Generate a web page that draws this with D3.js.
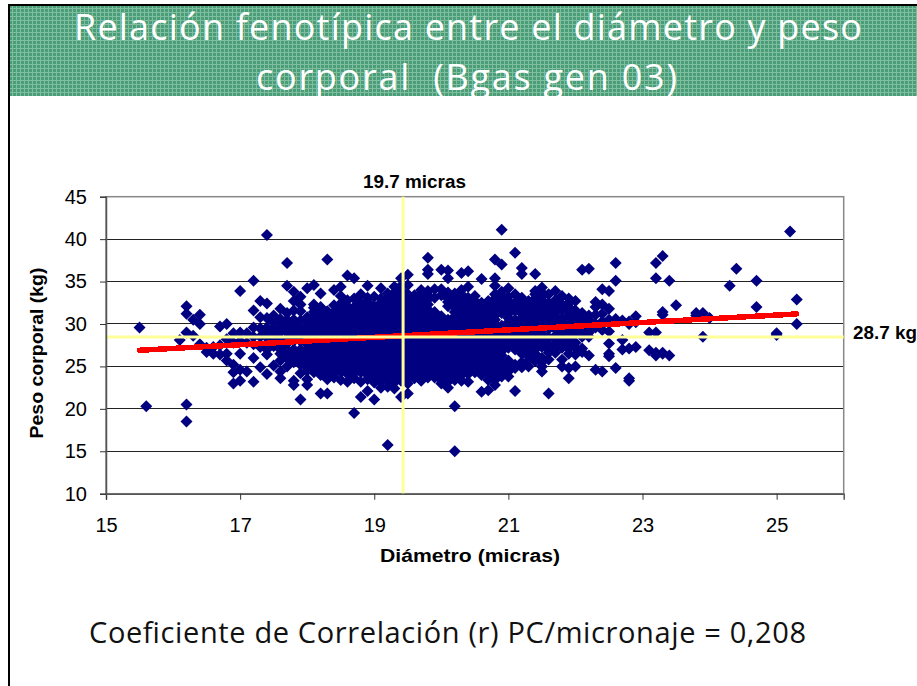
<!DOCTYPE html>
<html><head><meta charset="utf-8">
<script src="https://cdn.jsdelivr.net/npm/d3@7"></script>
<style>html,body{margin:0;padding:0;background:#fff;overflow:hidden}svg{display:block}</style>
</head><body><svg id="c" width="917" height="686"></svg>
<script>
const titleLines = ["Relación fenotípica entre el diámetro y peso", "corporal  (Bgas gen 03)"];
const xTicks = [15,17,19,21,23,25];
const yTicks = [10,15,20,25,30,35,40,45];
const xTitle = "Diámetro (micras)", yTitle = "Peso corporal (kg)";
const refX = 19.43, refY = 28.47;
const refXLabel = "19.7 micras", refYLabel = "28.7 kg";
const footer = "Coeficiente de Correlación (r) PC/micronaje = 0,208";
const trendX = [15.5, 25.3], trendY = [26.9, 31.18];
const diameters = [15.5,15.6,16.1,16.2,16.3,16.4,16.5,16.6,16.7,16.8,16.9,17.0,17.1,17.2,17.3,17.4,17.5,17.6,17.7,17.8,17.9,18.0,18.1,18.2,18.3,18.4,18.5,18.6,18.7,18.8,18.9,19.0,19.1,19.2,19.3,19.4,19.5,19.6,19.7,19.8,19.9,20.0,20.1,20.2,20.3,20.4,20.5,20.6,20.7,20.8,20.9,21.0,21.1,21.2,21.3,21.4,21.5,21.6,21.7,21.8,21.9,22.0,22.1,22.2,22.3,22.4,22.5,22.6,22.7,22.8,22.9,23.1,23.2,23.3,23.4,23.5,23.8,23.9,24.0,24.3,24.4,24.7,25.0,25.2,25.3];
const weights = [
[29.6],[20.3],[28.1],[32.1,31.2,29,20.5,18.5],[30.5,28.6],[31.1,30,27.6],[27.2,26.7],[27.3,26.5],[29.7,27.5,26.4],[30,28.2,26.5,25.7],
[28.9,27.8,25.2,24.3,23],[33.9,29,28,26.5,24.6,23.3],[28.9,27.8,24.4],[35.1,31.6,29.6,28.5,27.6,26,23.2],[32.7,30.8,29.5,28.5,27.3,24.9],[40.5,32.4,30.7,29.6,28.4,27,26.4,24.1],[31,30.2,29,28,25.1],[31.8,30.6,29.5,27.5,26.5,25.7,24.4,23.6],[37.2,34.5,30.5,29.5,28.3,27,26,25],[33.8,32.7,31.6,30,29,28,27,25.5,23.3,22.8],
[33.2,32.3,31.5,29.5,28.5,26.5,25.2,24.2,21.1],[34.2,30.8,29.8,28.7,27.6,26.4,25.4,24.5,23.5,22.8],[34.6,32.3,31.4,30.4,29.4,28.4,27.3,26.3,25.3,24.3],[33.6,32,31,30,29,28,27,26,25,24,21.8],[37.6,31,30,29,28,27,26,25,24,23.5,21.8],[34,32.2,30.9,29.8,28.9,27.7,26.6,25.6,24.8,23.7],[34.4,33.3,31.7,30.5,29.4,28.2,27.1,26.2,25.2,24.3,23.4],[35.7,32.8,31.6,30.7,29.5,28.6,27.5,26.5,25.4,24.6,23.2],[35.4,33,32,31,29.9,28.8,27.9,26.8,25.8,24.7,23.6,19.5],[33.5,32.5,31.4,30.4,29.4,28.3,27.3,26.3,25.3,24.3,23.2,21.4],
[34.5,33.1,32,30.9,29.8,28.7,27.7,26.6,25.6,24.5,23.5,22.1],[33.2,32.1,31.1,30.1,29.2,28.1,27,26,25,24.1,23.1,21.1],[34.2,33,32,31,30,29,28,27,26,25,24,23.2,22.5],[33.6,32.6,31.5,30.5,29.5,28.5,27.4,26.4,25.4,24.4,23.4,22.6,15.75],[34.4,33.2,32.2,31.2,30.2,29.2,28.2,27.2,26.2,25.2,24.2,23.1,22.4],[35.4,34.5,33.5,32.4,31.4,30.4,29.3,28.3,27.3,26.3,25.3,24.3,23.3,21.4],[35.8,34.6,33,32,31,30,29,28,27,26,25,24,23,21.8],[33.4,32.4,31.3,30.3,29.4,28.4,27.4,26.4,25.4,24.4,23.6],[34,33,32,30.9,29.9,28.9,27.9,26.9,25.9,24.9,23.9,23.3],[37.8,36.4,35.9,33.9,32.9,31.7,30.7,29.6,28.6,27.6,26.6,25.6,24.6,23.7],
[34.1,33.1,30.2,29.2,28.2,27.2,26.2,25.2,24.2],[36.4,34.1,33.4,30.9,29.9,28.9,27.9,26.9,25.9,24.9,23.9,23],[36.3,35.4,33.7,32.6,30,29,28,27,26,25,24,23.2,22.5],[33.6,32.5,31.4,30.4,29.4,28.4,27.4,26.4,25.4,24.4,23.4,20.3,15],[36,34,33,32,31,30,29,28,27,26,25,24,23.3],[36.2,34.4,33.1,32.2,31,30.1,29.1,28.1,27.1,26.1,25.1,24.1,23.2],[33.3,32.1,31.1,30.1,29.1,28.1,27.1,26.1,25.1,24.3],[35.3,32.5,31.5,30.5,29.5,28.5,27.5,26.5,25.5,24.5,22],[32.2,31.3,30.4,29.4,28.4,27.4,26.4,25.4,24.2,23.4,22.2],[37.6,35.4,34.5,33,32,31,30,29,28,27,26,25.2,24.4,23.4,22.8],
[41.1,37,33.8,32.8,31.8,29.8,28.8,27.8,26.8,25.8,24.8,23.8],[34.2,33.2,32.2,31.2,30.2,29.2,28.2,27.2,25.2,24.4,23.8],[38.4,33.5,32.5,31.6,30,29,28,27,24.8,22.1],[36.6,35.9,33.1,32.2,31.2,30.2,29.2,28.2,27.2,24.9],[32.7,31.7,30.7,29.7,28.7,27.7,26.7,25.7],[35.9,33.9,33,32,31,30,29,28,27,26,25.6],[34.3,33.2,32.3,31.3,30.3,29.3,28.3,27.3,26,25,24.4],[33.5,32.5,31.3,30.4,29.4,27.6,26.6,25.8,21.8],[33.9,32.8,31.8,30.9,29.9,28.6,27.6,26.6],[33.3,32.3,31.6,30.1,29.1,27.8,25],
[33,32,31,29.9,28.9,27.6,26.5,24.8,23.6],[32.7,31.6,30.4,29.4,27.8,25],[36.4,31.3,30.3,29.3,27.1,26.7],[36.5,31,30,29,28.5,26.3],[32.6,32,31.1,30,29.6,24.6],[34.1,32.3,31.2,30.3,29.3,24.4],[33.9,31.8,30.5,29.1,27.7,26.5,26.2],[37.2,35.1,30.6,24.8],[30.4,28.1,27],[30.3,30,27.1,23.6,23.3],
[30.9,30.2,27.3],[29,26.9],[37.2,35.4,29,26.6,26.3],[38,31.4,31.1,26.6,26.5],[35.1,26.3],[32.2],[31.3,31],[31.3,28.5],[30.7],[34.5],[36.5],[35.1,32],[28.9,28.7],[40.9],[32.9,30]
];
const denseDiameters = [17.4,17.5,17.6,17.7,17.8,17.9,18.0,18.1,18.2,18.3,18.4,18.5,18.6,18.7,18.8,18.9,19.0,19.1,19.2,19.3,19.4,19.5,19.6,19.7,19.8,19.9,20.0,20.1,20.2,20.3,20.4,20.5,20.6,20.7,20.8,20.9,21.0,21.1,21.2,21.3,21.4,21.5,21.6,21.7,21.8,21.9,22.0,22.1,22.2];
const denseWeights = [
[29,27.7],[30.6,29.5,28.5,27.4],[30.1,29,28,27],[31.3,30,29,27.7,26.5],[30.5,29.5,28.5,26.5],[30.4,29,28,27,26],[30.3,29.2,28.2,27,25.9,24.9],
[31.9,30.9,29.9,28.9,27.8,26.8,25.8,24.8],[31.5,30.5,29.5,28.5,27.5,26.5,25.5,24.5],[31.5,30.5,29.5,28.5,27.5,26.5,25.5,24.5],[31.4,30.3,29.4,28.3,27.2,26.1,25.2,24.2],[32.4,31.1,29.9,28.8,27.7,26.7,25.7,24.8],[32.1,31.1,30.1,29,28.1,27,26,25,24.1],[31.5,30.5,29.4,28.3,27.4,26.3,25.3,24.2],[32,30.9,29.9,28.8,27.8,26.8,25.8,24.8],[32.6,31.5,30.4,29.3,28.2,27.2,26.1,25.1,24],[31.6,30.6,29.7,28.6,27.5,26.5,25.5,24.6,23.6],
[32.5,31.5,30.5,29.5,28.5,27.5,26.5,25.5,24.5,23.7],[33.1,32,31,30,29,27.9,26.9,25.9,24.9,23.9],[33.7,32.7,31.7,30.7,29.7,28.7,27.7,26.7,25.7,24.7,23.6],[34,33,31.9,30.9,29.8,28.8,27.8,26.8,25.8,24.8,23.8],[33.5,32.5,31.5,30.5,29.5,28.5,27.5,26.5,25.5,24.5,23.5],[32.9,31.8,30.8,29.9,28.9,27.9,26.9,25.9,24.9],[33.5,32.5,31.4,30.4,29.4,28.4,27.4,26.4,25.4,24.4],[33.4,32.3,31.2,30.1,29.1,28.1,27.1,26.1,25.1,24.1],[31.4,30.7,29.7,28.7,27.7,26.7,25.7,24.7,23.7],[30.4,29.4,28.4,27.4,26.4,25.4,24.4,23.4],
[33,32.1,30.5,29.5,28.5,27.5,26.5,25.5,24.5,23.6],[33,32,30.9,29.9,28.9,27.9,26.9,25.9,24.9,23.9],[33.5,32.5,31.5,30.5,29.5,28.5,27.5,26.5,25.5,24.5],[32.7,31.6,30.6,29.6,28.6,27.6,26.6,25.6,24.6],[32.7,31.6,30.6,29.6,28.6,27.6,26.6,25.6,24.7],[32,31,30,29,28,27,26,25,24],[32.7,31.8,30.9,29.9,28.9,27.9,26.9,25.9,24.8],[33.5,32.5,31.5,30.5,29.5,28.5,27.5,26.5,25.6,24.8,23.9],[33.3,32.3,31.3,29.3,28.3,27.3,26.3,25.3,24.3],[32.7,31.7,30.7,29.7,28.7,27.7,25.7,24.9],
[32,30.5,29.5,28.5,27.5,25.2],[32.7,31.7,30.7,29.7,28.7,27.7,26.5,25.5],[32.2,31.2,30.2,29.2,28.2,27.2,26.2,25],[33.5,32.5,31.5,30.5,29.5,28.5,27.5,26.5],[33.7,32.8,31.8,30.8,29.8,28.8,27.8,25.5],[32,30.9,29.9,28.4,27],[32.3,31.3,30.4,29.4,28.2,27.1],[30.6,29.6,28.4,27.2,25.8],[32.5,31.5,30.4,29.4,28.3,27.1],[31,29.9,28.9,27.2,26.4],[30.8,29.8,28.5],[30.5,29.5]
];
const x = d3.scaleLinear().domain([15,26]).range([106,843.7]);
const y = d3.scaleLinear().domain([10,45]).range([493.7,196.7]);
const svg = d3.select("#c");
const defs = svg.append("defs");
const pat = defs.append("pattern").attr("id","g").attr("patternUnits","userSpaceOnUse").attr("width",4).attr("height",4);
pat.append("rect").attr("width",4).attr("height",4).attr("fill","#4a9d78");
pat.append("rect").attr("width",1).attr("height",4).attr("fill","#7fbf9f");
pat.append("rect").attr("width",4).attr("height",1).attr("fill","#7fbf9f");
svg.append("rect").attr("x",10).attr("y",6).attr("width",907).attr("height",90).attr("fill","url(#g)");
svg.append("rect").attr("x",8).attr("y",4).attr("width",909).attr("height",2).attr("fill","#000");
svg.append("rect").attr("x",8).attr("y",4).attr("width",2).attr("height",682).attr("fill","#000");
const clip = defs.append("clipPath").attr("id","b");
clip.append("rect").attr("x",10).attr("y",6).attr("width",907).attr("height",90);
const tg = svg.append("g").attr("clip-path","url(#b)").attr("font-family","'Open Sans','Noto Sans',sans-serif").attr("fill","#fff").attr("font-size",36);
titleLines.forEach((t,i)=>{
  tg.append("text").attr("x",[468,466.5][i]).attr("y",[40,89.5][i]).attr("text-anchor","middle").style("white-space","pre")
    .attr("textLength",[788,421][i]).text(t);
});
const plot = svg.append("g");
plot.selectAll("line.grid").data(yTicks.filter(d=>d>10&&d<45)).join("line").attr("class","grid")
  .attr("x1",x(15)).attr("x2",x(26)).attr("y1",d=>y(d)).attr("y2",d=>y(d)).attr("stroke","#222").attr("stroke-width",1).attr("shape-rendering","crispEdges");
plot.append("rect").attr("x",x(15)).attr("y",y(45)).attr("width",x(26)-x(15)).attr("height",y(10)-y(45))
  .attr("fill","none").attr("stroke","#888").attr("stroke-width",1.5);
const pts = diameters.flatMap((d,i)=>weights[i].map(w=>[d,w])).concat(denseDiameters.flatMap((d,i)=>denseWeights[i].map(w=>[d,w])));
const sym = d3.symbol().type(d3.symbolSquare).size(72);
plot.selectAll("path.pt").data(pts).join("path").attr("class","pt").attr("d",sym)
  .attr("transform",d=>`translate(${x(d[0])},${y(d[1])}) rotate(45)`).attr("fill","#000080");
plot.append("path").attr("d",d3.line().x(d=>x(d[0])).y(d=>y(d[1]))(trendX.map((v,i)=>[v,trendY[i]])))
  .attr("stroke","#ff0000").attr("stroke-width",5.5).attr("stroke-linecap","round").attr("fill","none").attr("shape-rendering","crispEdges");
plot.append("line").attr("x1",x(15)).attr("x2",x(26)).attr("y1",y(refY)).attr("y2",y(refY)).attr("stroke","#ffff99").attr("stroke-width",3);
plot.append("line").attr("x1",x(refX)).attr("x2",x(refX)).attr("y1",y(45)).attr("y2",y(10)).attr("stroke","#ffff99").attr("stroke-width",3);
const ff = "'Liberation Sans',Arial,sans-serif";
const xa = svg.append("g").attr("transform",`translate(0,${y(10)})`).call(d3.axisBottom(x).tickValues(xTicks).tickFormat(d3.format("d")).tickSize(6).tickPadding(18));
const ya = svg.append("g").attr("transform",`translate(${x(15)},0)`).call(d3.axisLeft(y).tickValues(yTicks).tickFormat(d3.format("d")).tickSize(6).tickPadding(13));
[xa,ya].forEach(a=>{a.select(".domain").attr("stroke","#555").attr("stroke-width",1.5);a.selectAll(".tick line").attr("stroke","#333");a.selectAll("text").attr("font-family",ff).attr("font-size",20).attr("fill","#000");});
const bold = (s,xx,yy,fs,anchor,len)=>svg.append("text").attr("x",xx).attr("y",yy).attr("font-family",ff).attr("font-weight","bold").attr("font-size",fs).attr("text-anchor",anchor).attr("fill","#000").attr("textLength",len).attr("lengthAdjust","spacingAndGlyphs").text(s);
bold(refXLabel,414.5,188,17.5,"middle",103);
bold(refYLabel,853,339,17.5,"start",64);
bold(xTitle,470,562,18,"middle",180);
bold(yTitle,0,0,18,"middle",171).attr("transform","translate(43,353) rotate(-90)");
svg.append("text").attr("x",89).attr("y",642.5).attr("font-family","'Open Sans','Noto Sans',sans-serif").attr("font-size",29).attr("fill","#111").attr("textLength",717).text(footer);
</script></body></html>
